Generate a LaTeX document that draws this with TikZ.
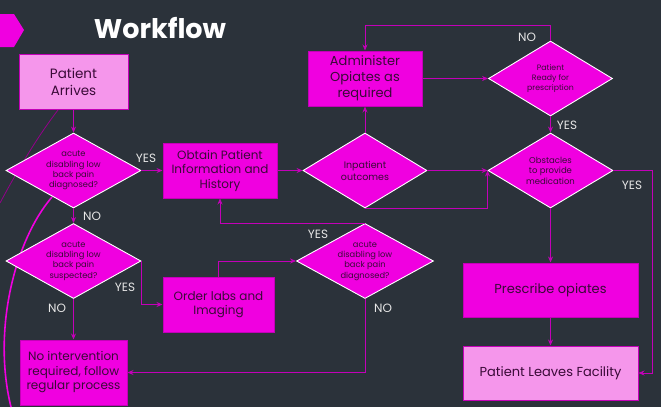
\documentclass[tikz,border=0pt]{standalone}
\usepackage{fontspec}
\setmainfont{Poppins}
\usetikzlibrary{shapes.geometric,arrows.meta}
\definecolor{slatebg}{HTML}{2B323A}
\definecolor{magfill}{HTML}{F000E0}
\definecolor{magline}{HTML}{C400B8}
\definecolor{pinkfill}{HTML}{F596EB}
\definecolor{boxtext}{HTML}{3A0A38}
\definecolor{lbltext}{HTML}{E6E6E6}

\begin{document}
\begin{tikzpicture}[x=1pt, y=-1pt,
    box/.style={rectangle, draw=magline, line width=1pt, fill=magfill, text=boxtext, align=center, inner sep=2pt, font=\fontsize{12}{14.5}\selectfont},
    startbox/.style={box, fill=pinkfill},
    choice/.style={diamond, draw=white, line width=0.9pt, fill=magfill, text=boxtext, align=center, inner sep=0pt, aspect=1.8, minimum width=135pt, minimum height=75pt, font=\fontsize{8.3}{10.2}\selectfont},
    answer/.style={text=lbltext, font=\fontsize{12}{14}\selectfont, inner sep=0pt},
    arrow/.style={-{Stealth[length=6pt,width=5pt]},draw=magline,line width=0.8pt}
]
    % slide background
    \useasboundingbox (0,0) rectangle (661,407);
    \fill[slatebg] (0,0) rectangle (661,407);
    \fill[magfill] (0,14) -- (14,14) -- (24,30) -- (14,47) -- (0,47) -- cycle;
    \draw[magline!75!black, line width=0.8pt] (58,110) .. controls (35,140) and (15,175) .. (0,203);
    \draw[magfill, line width=1.6pt] (52,197) .. controls (15,240) and (-8,330) .. (11,407);

    \node[text=white, font=\fontsize{27}{30}\bfseries] (title) at (160,28) {Workflow};

    \node[startbox, minimum width=109pt, minimum height=55pt, font=\fontsize{13.5}{17}\selectfont] (arrives) at (73.5,81.5) {Patient\\Arrives};
    \node[choice] (diag1) at (73.5,170.5) {acute\\disabling low\\back pain\\diagnosed?};
    \node[choice] (susp) at (73.5,261) {acute\\disabling low\\back pain\\suspected?};
    \node[box, minimum width=107pt, minimum height=65pt] (nointv) at (73.5,372.5) {No intervention\\required, follow\\regular process};

    \node[box, minimum width=114pt, minimum height=55pt] (obtain) at (220,170.5) {Obtain Patient\\Information and\\History};
    \node[box, minimum width=111pt, minimum height=55pt] (labs) at (218.5,304.5) {Order labs and\\Imaging};

    \node[choice, minimum width=124pt, font=\fontsize{9.5}{12}\selectfont] (inpat) at (365,170.5) {Inpatient\\outcomes};
    \node[choice, minimum width=137pt] (diag2) at (365,261) {acute\\disabling low\\back pain\\diagnosed?};
    \node[box, minimum width=114pt, minimum height=55pt, font=\fontsize{13}{16}\selectfont] (admin) at (365,78.5) {Administer\\Opiates as\\required};

    \node[choice, minimum width=124pt, font=\fontsize{7.8}{10}\selectfont] (ready) at (550.5,78.5) {Patient\\Ready for\\prescription};
    \node[choice, minimum width=125pt, font=\fontsize{8.5}{10.5}\selectfont] (obst) at (550.5,170.5) {Obstacles\\to provide\\medication};
    \node[box, minimum width=175pt, minimum height=54pt, font=\fontsize{13}{16}\selectfont] (prescribe) at (550.5,290) {Prescribe opiates};
    \node[startbox, minimum width=175pt, minimum height=54pt, font=\fontsize{13}{16}\selectfont] (leaves) at (550.5,373) {Patient Leaves Facility};

    \node[answer] (yes1) at (146,158) {YES};
    \node[answer] (no1) at (92,216) {NO};
    \node[answer] (no2) at (57,308) {NO};
    \node[answer] (yes2) at (125,287) {YES};
    \node[answer] (yes3) at (318,234) {YES};
    \node[answer] (no3) at (383,308) {NO};
    \node[answer] (no4) at (527,37) {NO};
    \node[answer] (yes4) at (567,125) {YES};
    \node[answer] (yes5) at (632,185) {YES};

    \draw[arrow] (arrives) -- (diag1);
    \draw[arrow] (diag1.east) -- (obtain.west);
    \draw[arrow] (diag1.south) -- (susp.north);
    \draw[arrow] (susp.south) -- (nointv.north);
    \draw[arrow] (susp.east) |- (labs.west);
    \draw[arrow] (labs.north) |- (diag2.west);
    \draw[arrow] (diag2.north) -| (obtain.south);
    \draw[arrow] (diag2.south) |- (nointv.east);
    \draw[arrow] (obtain) -- (inpat);
    \draw[arrow] (inpat.north) -- (admin.south);
    \draw[arrow] (inpat.east) -- (obst.west);
    \draw[arrow] (inpat.south) -| (obst.west);
    \draw[arrow] (admin.east) -- (ready.west);
    \draw[arrow] (ready.north) -- ++(0,-15) -| (admin.north);
    \draw[arrow] (ready) -- (obst);
    \draw[arrow] (obst) -- (prescribe);
    \draw[arrow] (obst.east) -- ++(39,0) |- (leaves.east);
    \draw[arrow] (prescribe) -- (leaves);
\end{tikzpicture}
\end{document}
